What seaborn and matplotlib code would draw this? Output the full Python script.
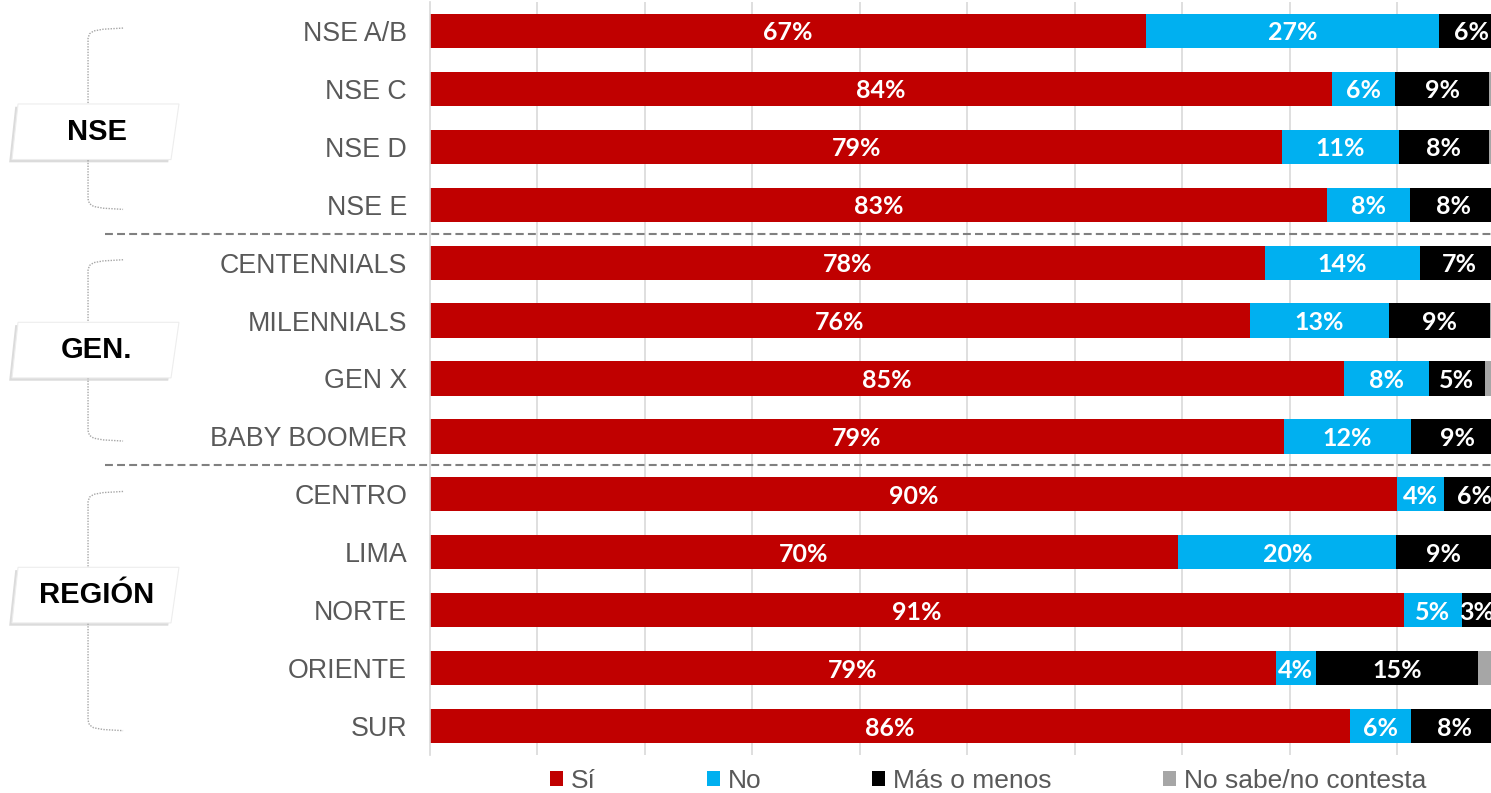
import matplotlib
matplotlib.use('Agg')
import matplotlib.pyplot as plt
import seaborn as sns
import numpy as np
import pandas as pd
from matplotlib.patches import Polygon, Patch
from matplotlib import patheffects as pe

# datos (porcentajes)
categorias = ['NSE A/B', 'NSE C', 'NSE D', 'NSE E',
              'CENTENNIALS', 'MILENNIALS', 'GEN X', 'BABY BOOMER',
              'CENTRO', 'LIMA', 'NORTE', 'ORIENTE', 'SUR']
si = [66.6, 83.9, 79.3, 83.4, 77.7, 76.3, 85.0, 79.4, 90.0, 69.6, 90.6, 78.7, 85.6]
no = [27.3, 5.9, 10.8, 7.8, 14.4, 12.9, 7.9, 11.9, 4.3, 20.3, 5.4, 3.7, 5.7]
mas_menos = [5.9, 8.7, 8.4, 8.1, 7.4, 9.4, 5.2, 8.6, 5.7, 8.8, 2.8, 15.1, 8.1]
no_sabe = [0.2, 1.5, 1.5, 0.7, 0.5, 1.4, 1.9, 0.1, 0.0, 1.3, 1.2, 2.5, 0.6]

series = ['Sí', 'No', 'Más o menos', 'No sabe/no contesta']
colores = ['#C00000', '#00B0F0', '#000000', '#A6A6A6']

grupos = ['NSE', 'GEN.', 'REGIÓN']
grupo_filas = [(0, 3), (4, 7), (8, 12)]

sns.set_style('white')
plt.rcParams['font.family'] = ['Liberation Sans', 'DejaVu Sans']

df = pd.DataFrame({'cat': categorias, 'Sí': si, 'No': no,
                   'Más o menos': mas_menos, 'No sabe/no contesta': no_sabe})
acum = df[series].cumsum(axis=1)
acum['cat'] = df['cat']

fig = plt.figure(figsize=(14.91, 7.93), dpi=100)
ax = fig.add_axes([430 / 1491, 38 / 793, 1061 / 1491, 753 / 793])

# barras apiladas: se dibuja el acumulado de mayor a menor
for s, c in reversed(list(zip(series, colores))):
    sns.barplot(data=acum, x=s, y='cat', color=c, saturation=1, width=0.59,
                orient='h', linewidth=0, ax=ax)

# etiquetas de datos
for i in range(len(df)):
    inicio = 0
    for s in series[:3]:
        v = df.loc[i, s]
        ax.text(inicio + v / 2, i, f'{v:.0f}%', ha='center', va='center_baseline',
                color='white', fontsize=18, fontweight='bold',
                family=['Lato', 'DejaVu Sans'], clip_on=True)
        inicio += v

ax.set_xlim(0, 98.7)
ax.set_ylim(len(categorias) - 0.5, -0.5)
ax.set_xticks(range(10, 100, 10))
ax.grid(axis='x', color='#d9d9d9', lw=1.2)
ax.set_axisbelow(True)
ax.tick_params(axis='x', length=0, labelbottom=False)
ax.tick_params(axis='y', length=0, pad=16.5, labelsize=19.3, labelcolor='#595959')
ax.set_xlabel('')
ax.set_ylabel('')
for sp in ['top', 'right', 'bottom']:
    ax.spines[sp].set_visible(False)
ax.spines['left'].set_color('#d9d9d9')
ax.spines['left'].set_linewidth(1.2)

trans = ax.get_yaxis_transform()

# separadores entre grupos
for y in [3.5, 7.5]:
    ax.plot([-0.306, 1], [y, y], transform=trans, clip_on=False,
            color='#808080', lw=1.5, ls=(0, (3.8, 2)))

# llaves punteadas
for a, b in grupo_filas:
    top, bot = a - 0.05, b + 0.08
    xs = [-0.2893, -0.3080, -0.3170, -0.3210, -0.3223, -0.3223,
          -0.3210, -0.3170, -0.3080, -0.2893]
    ys = [top, top + 0.02, top + 0.05, top + 0.1, top + 0.18,
          bot - 0.18, bot - 0.1, bot - 0.05, bot - 0.02, bot]
    ax.plot(xs, ys, transform=trans, clip_on=False, color='#a6a6a6',
            lw=1, ls=(0, (1, 1)))

# cajas de grupo
caja_y = [1.74, 5.51, 9.74]
for nombre, yc in zip(grupos, caja_y):
    h = 0.48
    verts = [(-0.3883, yc - h), (-0.2366, yc - h), (-0.2441, yc + h), (-0.3940, yc + h)]
    poly = Polygon(verts, closed=True, transform=trans, facecolor='white',
                   edgecolor='#ededed', lw=0.8, clip_on=False, zorder=5,
                   path_effects=[pe.withSimplePatchShadow(offset=(-2, -2),
                                                          shadow_rgbFace='#888888',
                                                          alpha=0.3)])
    ax.add_patch(poly)
    ax.text(-0.3139, yc, nombre, transform=trans, ha='center', va='center',
            fontsize=21, fontweight='bold', color='black', zorder=6, clip_on=False)

# leyenda
handles = [Patch(facecolor=c, edgecolor='none') for c in colores]
fig.legend(handles, series, loc='center', bbox_to_anchor=(988 / 1491, 1 - 781 / 793),
           ncol=4, frameon=False, handlelength=0.5, handleheight=0.5,
           handletextpad=0.3, columnspacing=4.2,
           prop={'size': 19}, labelcolor='#595959')

fig.savefig('out.png', dpi=100)
